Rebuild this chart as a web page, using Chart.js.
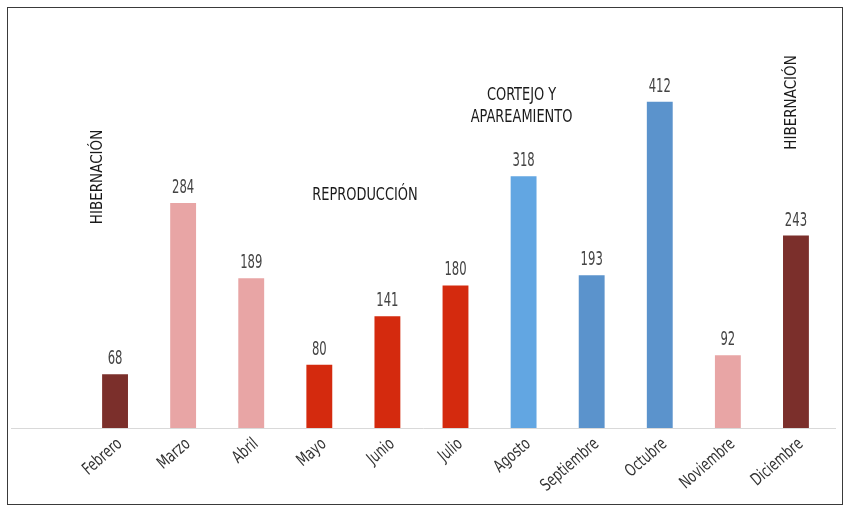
<!DOCTYPE html>
<html>
<head>
<meta charset="utf-8">
<script src="https://cdn.jsdelivr.net/npm/chart.js@4.4.0/dist/chart.umd.min.js"></script>
<style>
  body { margin:0; background:#fff; }
  #box { position:absolute; left:7px; top:7px; width:834px; height:496px; border:1px solid #3a3a3a; }
  canvas { display:block; }
</style>
</head>
<body>
<div id="box"><canvas id="chart" width="834" height="496"></canvas></div>
<script>
// ===== Data =====
const months = ["Febrero","Marzo","Abril","Mayo","Junio","Julio","Agosto","Septiembre","Octubre","Noviembre","Diciembre"];
const counts = [68, 284, 189, 80, 141, 180, 318, 193, 412, 92, 243];
const barColors = ["#7b2f2b","#e8a5a5","#e8a5a5","#d42a0e","#d42a0e","#d42a0e","#62a6e2","#5b93cc","#5b93cc","#e8a5a5","#7b2f2b"];

// phase labels: text lines, x (category index), y (value), rotated?
const phases = [
  { text:["HIBERNACIÓN"], x:-0.25, y:317, rotate:true },
  { text:["REPRODUCCIÓN"], x:3.67, y:294, rotate:false },
  { text:["CORTEJO Y","APAREAMIENTO"], x:5.97, y:420, rotate:false },
  { text:["HIBERNACIÓN"], x:9.95, y:411, rotate:true }
];

const FONT = '"DejaVu Sans Condensed", sans-serif';

// draws text squeezed horizontally to look like a condensed face
function narrowText(ctx, txt, x, y, sx){
  ctx.save();
  ctx.translate(x, y);
  ctx.scale(sx, 1);
  ctx.fillText(txt, 0, 0);
  ctx.restore();
}

// ===== Plugins =====
const baseLine = {
  id:'baseLine',
  beforeDatasetsDraw(chart){
    const {ctx, scales:{y}} = chart;
    const py = Math.round(y.getPixelForValue(0)) + 0.5;
    ctx.save();
    ctx.strokeStyle = '#d9d9d9';
    ctx.lineWidth = 1;
    ctx.beginPath();
    ctx.moveTo(3, py);
    ctx.lineTo(chart.width - 6, py);
    ctx.stroke();
    ctx.restore();
  }
};

const monthLabels = {
  id:'monthLabels',
  afterDraw(chart){
    const {ctx, scales:{x, y}} = chart;
    const base = y.getPixelForValue(0);
    ctx.save();
    ctx.fillStyle = '#333';
    ctx.font = '17px ' + FONT;
    ctx.textAlign = 'right';
    ctx.textBaseline = 'middle';
    months.forEach((m, i) => {
      ctx.save();
      ctx.translate(x.getPixelForValue(i) + 5, base + 14);
      ctx.rotate(-41 * Math.PI / 180);
      ctx.scale(0.8, 1);
      ctx.fillText(m, 0, 0);
      ctx.restore();
    });
    ctx.restore();
  }
};

const valueLabels = {
  id:'valueLabels',
  afterDatasetsDraw(chart){
    const {ctx} = chart;
    const meta = chart.getDatasetMeta(0);
    ctx.save();
    ctx.fillStyle = '#444';
    ctx.font = '19px ' + FONT;
    ctx.textAlign = 'center';
    ctx.textBaseline = 'alphabetic';
    meta.data.forEach((bar, i) => {
      narrowText(ctx, String(counts[i]), bar.x, bar.y - 10, 0.68);
    });
    ctx.restore();
  }
};

const phaseLabels = {
  id:'phaseLabels',
  afterDraw(chart){
    const {ctx, scales:{x, y}} = chart;
    ctx.save();
    ctx.fillStyle = '#1a1a1a';
    ctx.textAlign = 'center';
    ctx.textBaseline = 'middle';
    phases.forEach(p => {
      const px = x.getPixelForValue(p.x);
      const py = y.getPixelForValue(p.y);
      if (p.rotate) {
        ctx.save();
        ctx.font = '15px ' + FONT;
        ctx.translate(px, py);
        ctx.rotate(-Math.PI/2);
        ctx.fillText(p.text[0], 0, 0);
        ctx.restore();
      } else {
        ctx.font = '18px ' + FONT;
        p.text.forEach((t, k) => narrowText(ctx, t, px, py + k*22, 0.8));
      }
    });
    ctx.restore();
  }
};

// ===== Chart =====
const ctx = document.getElementById('chart').getContext('2d');
new Chart(ctx, {
  type:'bar',
  data:{
    labels: months,
    datasets:[{
      data: counts,
      backgroundColor: barColors,
      borderWidth: 0,
      barPercentage: 0.76,
      categoryPercentage: 0.5
    }]
  },
  options:{
    responsive:false,
    animation:false,
    layout:{ padding:{ left:73, right:12, top:24, bottom:68 } },
    plugins:{ legend:{display:false}, tooltip:{enabled:false} },
    scales:{
      x:{
        grid:{ display:false },
        border:{ display:false },
        ticks:{ display:false }
      },
      y:{
        display:false,
        min:0, max:500
      }
    }
  },
  plugins:[baseLine, valueLabels, monthLabels, phaseLabels]
});
</script>
</body>
</html>
